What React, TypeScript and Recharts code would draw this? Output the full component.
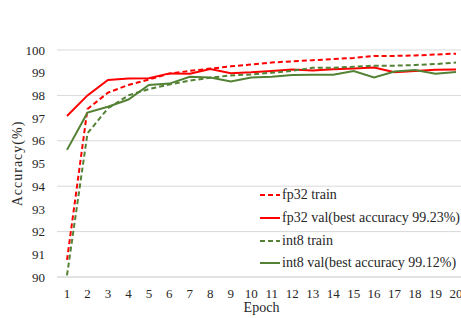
import { LineChart, Line, XAxis, YAxis, CartesianGrid, Legend } from "recharts";

const epochs = ["1", "2", "3", "4", "5", "6", "7", "8", "9", "10", "11", "12", "13", "14", "15", "16", "17", "18", "19", "20"];
const fp32Train = [90.75, 97.4, 98.12, 98.46, 98.7, 98.96, 99.08, 99.18, 99.28, 99.36, 99.45, 99.5, 99.55, 99.6, 99.65, 99.74, 99.74, 99.76, 99.8, 99.84];
const fp32Val = [97.09, 98.0, 98.68, 98.74, 98.76, 98.97, 98.95, 99.16, 98.98, 99.02, 99.08, 99.14, 99.1, 99.15, 99.19, 99.23, 99.02, 99.07, 99.13, 99.14];
const int8Train = [90.07, 96.33, 97.43, 98.0, 98.28, 98.48, 98.65, 98.78, 98.88, 98.92, 99.0, 99.08, 99.22, 99.22, 99.26, 99.31, 99.31, 99.34, 99.38, 99.45];
const int8Val = [95.6, 97.24, 97.5, 97.82, 98.46, 98.52, 98.82, 98.79, 98.61, 98.79, 98.82, 98.9, 98.91, 98.91, 99.07, 98.79, 99.05, 99.12, 98.95, 99.03];
const yTicks = [90, 91, 92, 93, 94, 95, 96, 97, 98, 99, 100];

const RED = "#ff0000";
const GREEN = "#548235";
const TEXT = "#262626";
const FONT = "'Liberation Serif', 'DejaVu Serif', serif";

const series = [
  { key: "fp32Train", name: "fp32 train", color: RED, dash: "5 3" },
  { key: "fp32Val", name: "fp32 val(best accuracy 99.23%)", color: RED, dash: undefined },
  { key: "int8Train", name: "int8 train", color: GREEN, dash: "5 3" },
  { key: "int8Val", name: "int8 val(best accuracy 99.12%)", color: GREEN, dash: undefined },
];

const data = epochs.map((e, i) => ({
  epoch: e,
  fp32Train: fp32Train[i],
  fp32Val: fp32Val[i],
  int8Train: int8Train[i],
  int8Val: int8Val[i],
}));

function LegendBox() {
  return (
    <div style={{ fontFamily: FONT, fontSize: 14, color: TEXT }}>
      {series.map((s) => (
        <div key={s.key} style={{ display: "flex", alignItems: "center", height: 22.7, whiteSpace: "nowrap" }}>
          <svg width={22} height={6} style={{ marginRight: 2 }}>
            <line x1={2} y1={3} x2={22} y2={3} stroke={s.color} strokeWidth={2} strokeDasharray={s.dash} />
          </svg>
          <span>{s.name}</span>
        </div>
      ))}
    </div>
  );
}

function YLabel(props: any) {
  const vb = props.viewBox || {};
  const cx = 19;
  const cy = vb.y + vb.height / 2;
  return (
    <text x={cx} y={cy} transform={`rotate(-90, ${cx}, ${cy})`} textAnchor="middle" dominantBaseline="middle"
      fontFamily={FONT} fontSize={14} letterSpacing={1} fill={TEXT}>
      Accuracy(%)
    </text>
  );
}

export default function App() {
  return (
    <div style={{ position: "fixed", left: 0, top: 0, width: 461, height: 318, overflow: "hidden", background: "#fff" }}>
      <LineChart width={466} height={318} data={data} margin={{ top: 50, right: 0, left: 0, bottom: 0 }}>
        <CartesianGrid vertical={false} stroke="#d9d9d9" strokeWidth={1} />
        <XAxis
          dataKey="epoch"
          height={41}
          padding={{ left: 10, right: 10 }}
          axisLine={{ stroke: "#d9d9d9" }}
          tickLine={false}
          tickMargin={6}
          interval={0}
          tick={{ fontFamily: FONT, fontSize: 13, fill: TEXT }}
          label={{ value: "Epoch", position: "insideBottom", offset: 6, fontFamily: FONT, fontSize: 14, fill: TEXT }}
        />
        <YAxis
          width={57}
          domain={[90, 100]}
          ticks={yTicks}
          axisLine={false}
          tickLine={false}
          tickMargin={6}
          tick={{ fontFamily: FONT, fontSize: 13, fill: TEXT }}
          label={<YLabel />}
        />
        <Legend
          layout="vertical"
          align="center"
          verticalAlign="middle"
          content={<LegendBox />}
          wrapperStyle={{ left: 258, top: 184, width: 220 }}
        />
        {series.map((s) => (
          <Line
            key={s.key}
            type="linear"
            dataKey={s.key}
            name={s.name}
            stroke={s.color}
            strokeWidth={2}
            strokeDasharray={s.dash}
            dot={false}
            activeDot={false}
            isAnimationActive={false}
          />
        ))}
      </LineChart>
    </div>
  );
}
